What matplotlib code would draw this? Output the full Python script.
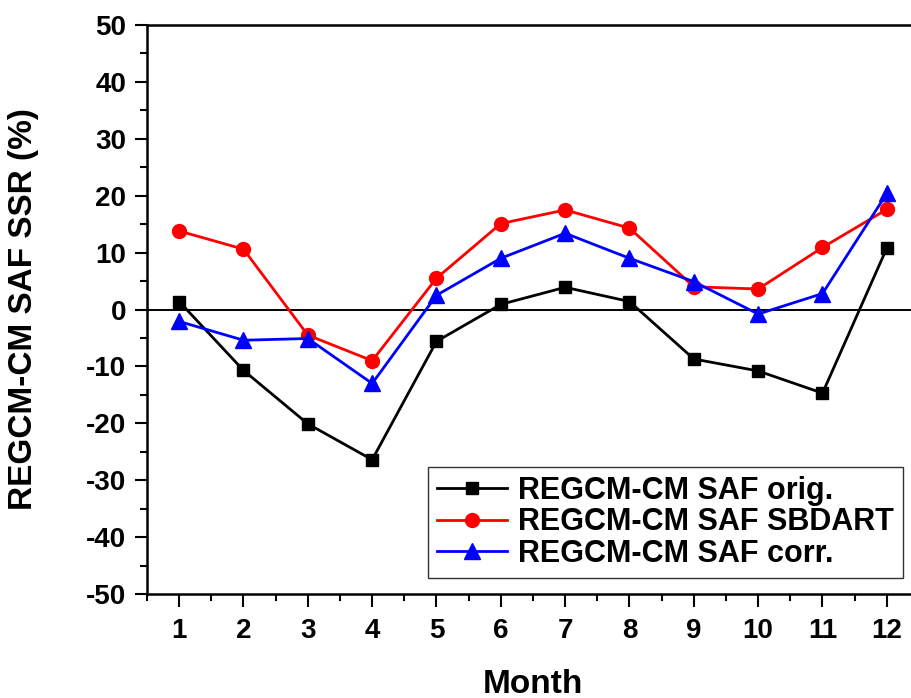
import matplotlib
matplotlib.use("Agg")
import matplotlib.pyplot as plt
from matplotlib.ticker import MultipleLocator

plt.rcParams['font.family'] = ['Liberation Sans', 'DejaVu Sans']
plt.rcParams['font.weight'] = 'bold'
plt.rcParams['axes.unicode_minus'] = False

months = [1, 2, 3, 4, 5, 6, 7, 8, 9, 10, 11, 12]
orig = [1.4, -10.7, -20.1, -26.4, -5.6, 0.9, 3.9, 1.4, -8.7, -10.8, -14.7, 10.8]
sbdart = [13.8, 10.6, -4.5, -9.0, 5.5, 15.1, 17.5, 14.3, 4.0, 3.6, 10.9, 17.6]
corr = [-2.1, -5.4, -5.1, -13.0, 2.5, 9.0, 13.4, 9.0, 4.9, -0.8, 2.8, 20.4]
labels = ["REGCM-CM SAF orig.", "REGCM-CM SAF SBDART", "REGCM-CM SAF corr."]

fig = plt.figure(figsize=(9.12, 6.98), dpi=100)
W, H = 912, 698
left, right, top, bottom = 147, 919, 25, 594
ax = fig.add_axes([left / W, 1 - bottom / H, (right - left) / W, (bottom - top) / H])

ax.axhline(0, color='black', lw=1.4, zorder=1)
ax.plot(months, orig, color='black', lw=2.0, marker='s', ms=9, label=labels[0], zorder=3)
ax.plot(months, sbdart, color='red', lw=2.0, marker='o', ms=10, label=labels[1], zorder=3)
ax.plot(months, corr, color='blue', lw=2.0, marker='^', ms=11, label=labels[2], zorder=3)

ax.set_xlim(0.5, 12.5)
ax.set_ylim(-50, 50)
ax.set_xticks(months)
ax.xaxis.set_minor_locator(MultipleLocator(0.5))
ax.yaxis.set_major_locator(MultipleLocator(10))
ax.yaxis.set_minor_locator(MultipleLocator(5))
ax.tick_params(axis='both', which='major', direction='out', length=9, width=1.5, labelsize=20)
ax.tick_params(axis='x', which='major', pad=8)
ax.tick_params(axis='y', which='major', pad=6)
ax.tick_params(axis='both', which='minor', direction='out', length=5, width=1.5)
for lab in ax.get_xticklabels() + ax.get_yticklabels():
    lab.set_fontweight('bold')
for s in ax.spines.values():
    s.set_linewidth(1.8)

ax.set_xlabel("Month", fontsize=24, fontweight='bold', labelpad=18)
ax.set_ylabel("REGCM-CM SAF SSR (%)", fontsize=24, fontweight='bold', labelpad=34)

leg = ax.legend(loc='lower left', bbox_to_anchor=((428 - left) / (right - left), (594 - 578) / (bottom - top)),
                prop={'size': 22, 'weight': 'bold'}, frameon=True, fancybox=False,
                edgecolor='black', handlelength=2.3, borderpad=0.3, labelspacing=0.05,
                handletextpad=0.35, borderaxespad=0)
leg.get_frame().set_linewidth(1.0)

fig.savefig("out.png", dpi=100)
